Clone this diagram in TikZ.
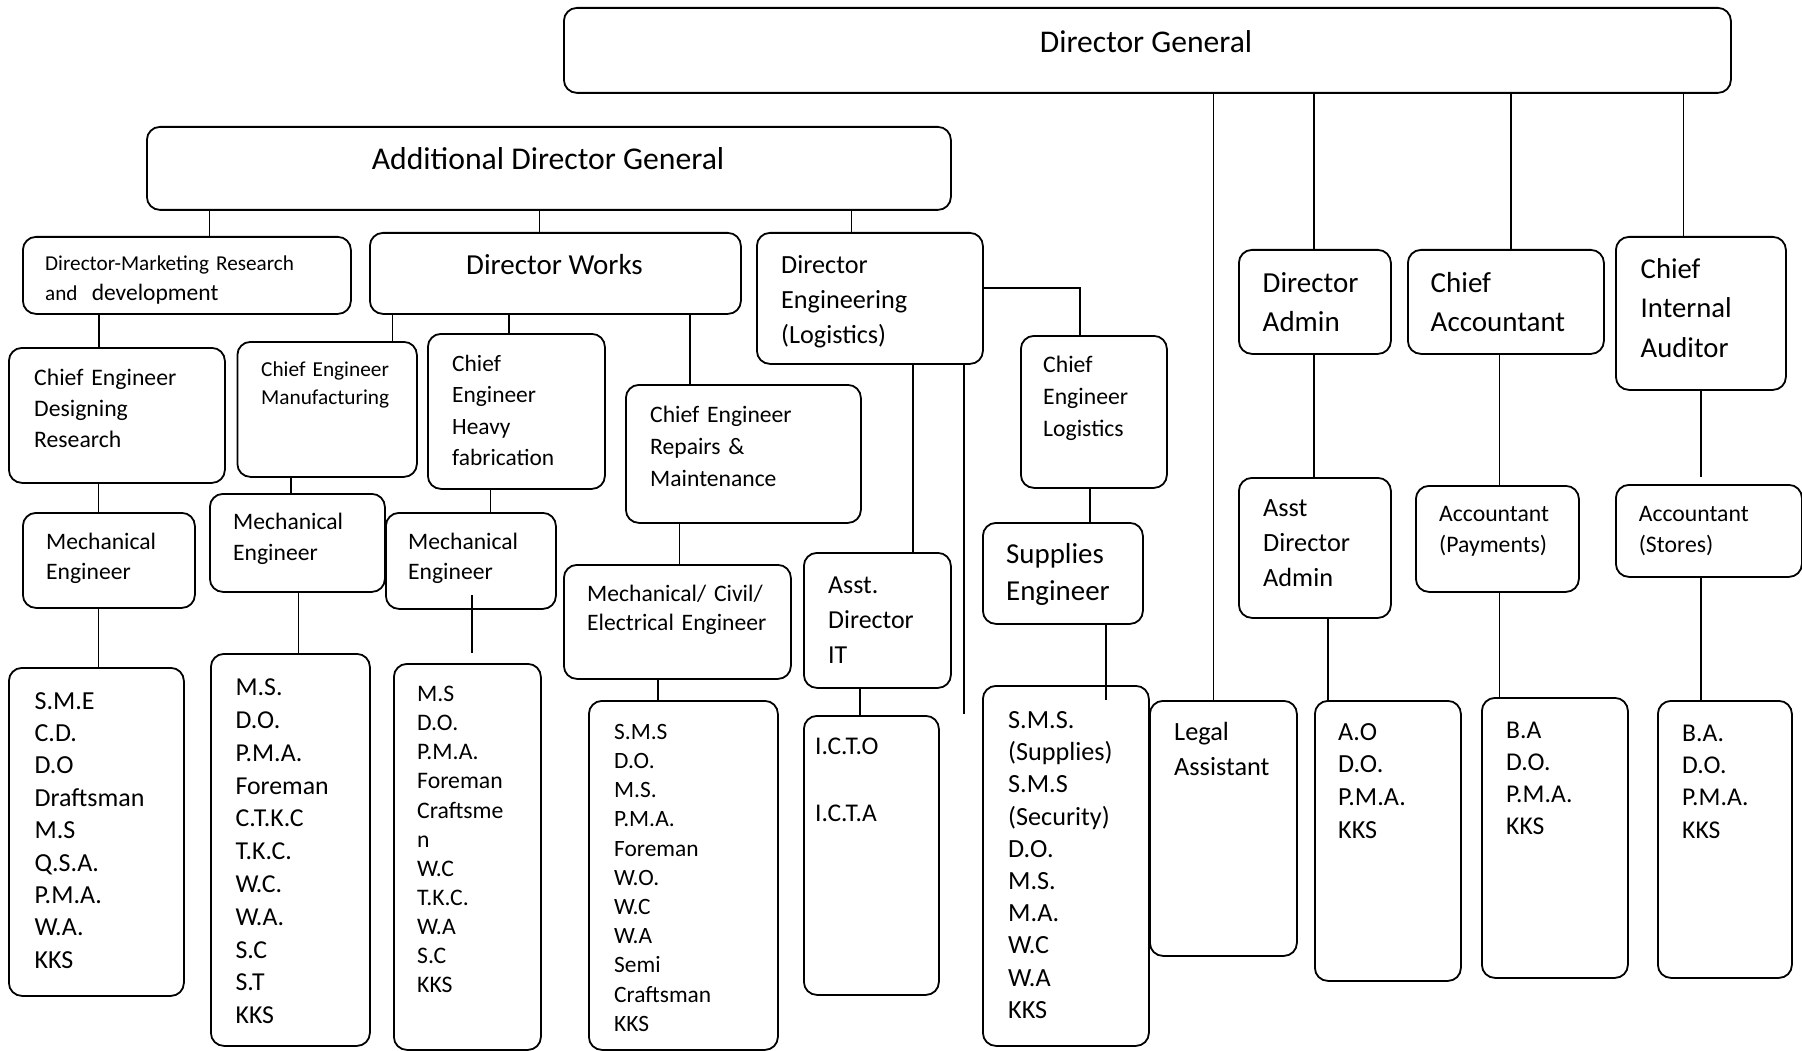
\documentclass[tikz,border=0pt]{standalone}
\usepackage{fontspec}
\setmainfont{Carlito}

\tikzset{
  box/.style={draw,line width=1.8pt,rounded corners=13pt,anchor=north west,inner sep=0pt},
  txt/.style n args={2}{anchor=base west,align=left,inner sep=0pt,text width=320pt,font=\fontsize{#1pt}{#2pt}\selectfont},
  head/.style={anchor=base,inner sep=0pt,font=\fontsize{#1pt}{#1pt}\selectfont},
  link/.style={line width=1.5pt}
}

\begin{document}
\begin{tikzpicture}[x=1pt,y=-1pt]
\useasboundingbox (0,0) rectangle (1802,1051);

\node[box,minimum width=1167pt,minimum height=85pt] (dg) at (563,7) {};
\node[box,minimum width=804pt,minimum height=83pt] (adg) at (146,126) {};
\node[box,minimum width=328pt,minimum height=77pt] (dmr) at (22,236) {};
\node[box,minimum width=371pt,minimum height=81pt] (dw) at (369,232) {};
\node[box,minimum width=226pt,minimum height=131pt] (de) at (756,232) {};
\node[box,minimum width=216pt,minimum height=135pt] (cedr) at (8,347) {};
\node[box,minimum width=179.5pt,minimum height=135pt] (cem) at (236.5,341) {};
\node[box,minimum width=177pt,minimum height=155pt] (cehf) at (427,333) {};
\node[box,minimum width=235pt,minimum height=138pt] (cerm) at (625,384) {};
\node[box,minimum width=227pt,minimum height=114pt] (mce) at (563,564) {};
\node[box,minimum width=147pt,minimum height=135pt] (adit) at (803,552) {};
\node[box,minimum width=146pt,minimum height=152pt] (cel) at (1020,335) {};
\node[box,minimum width=160pt,minimum height=101pt] (se) at (982,522) {};
\node[box,minimum width=172pt,minimum height=95pt] (me1) at (22,512) {};
\node[box,minimum width=175pt,minimum height=98pt] (me2) at (209,493) {};
\node[box,minimum width=170pt,minimum height=96pt] (me3) at (385,512) {};
\node[box,minimum width=152pt,minimum height=104pt] (da) at (1238,249) {};
\node[box,minimum width=196pt,minimum height=104pt] (ca) at (1407,249) {};
\node[box,minimum width=170pt,minimum height=153pt] (cia) at (1615,236) {};
\node[box,minimum width=152pt,minimum height=140pt] (ada) at (1238,477) {};
\node[box,minimum width=163pt,minimum height=106pt] (pay) at (1415,485) {};
\node[box,minimum width=186pt,minimum height=92pt] (sto) at (1615,484) {};
\node[box,minimum width=175pt,minimum height=328pt] (l1) at (8,667) {};
\node[box,minimum width=159pt,minimum height=392pt] (l2) at (210,653) {};
\node[box,minimum width=147pt,minimum height=386pt] (l3) at (393,663) {};
\node[box,minimum width=189pt,minimum height=349pt] (l4) at (588,700) {};
\node[box,minimum width=135pt,minimum height=279pt] (lit) at (803,715) {};
\node[box,minimum width=166pt,minimum height=360pt] (l5) at (982,685) {};
\node[box,minimum width=147pt,minimum height=255pt] (legal) at (1149,700) {};
\node[box,minimum width=146pt,minimum height=280pt] (ladm) at (1314,700) {};
\node[box,minimum width=146pt,minimum height=280pt] (lpay) at (1481,697) {};
\node[box,minimum width=134pt,minimum height=277pt] (lsto) at (1657,700) {};

\node[head=31.6] (dgT) at (1146,52.8) {Director General};
\node[head=31.7] (adgT) at (548,170) {Additional Director General};
\node[head=29] (dwT) at (554.5,274) {Director Works};
\node[txt={21.2}{30}] (dmrT) at (45,270) {Director-Marketing Research\\and\ \ {\fontsize{23.5pt}{30pt}\selectfont development}};
\node[txt={26.2}{35}] (deT) at (781,273.4) {Director\\Engineering\\(Logistics)};
\node[txt={23.7}{31}] (cedrT) at (34,385.6) {Chief Engineer\\Designing\\Research};
\node[txt={21.3}{28}] (cemT) at (261,376.8) {Chief Engineer\\Manufacturing};
\node[txt={23.4}{31.4}] (cehfT) at (452,371.5) {Chief\\Engineer\\Heavy\\fabrication};
\node[txt={23.6}{31.7}] (cermT) at (650,422.6) {Chief Engineer\\Repairs \&\\Maintenance};
\node[txt={23.6}{28.7}] (mceT) at (587,601.6) {Mechanical/ Civil/\\Electrical Engineer};
\node[txt={25.9}{35}] (aditT) at (828,593.3) {Asst.\\Director\\IT};
\node[txt={23.7}{31.7}] (celT) at (1043,372.6) {Chief\\Engineer\\Logistics};
\node[txt={28.9}{37.7}] (seT) at (1006,563.2) {Supplies\\Engineer};
\node[txt={23.6}{30.3}] (me1T) at (46,549.3) {Mechanical\\Engineer};
\node[txt={23.6}{31.3}] (me2T) at (233,529.3) {Mechanical\\Engineer};
\node[txt={23.6}{30.3}] (me3T) at (408,549.3) {Mechanical\\Engineer};
\node[txt={29}{39}] (daT) at (1262.5,292.3) {Director\\Admin};
\node[txt={29}{39}] (caT) at (1430.5,292.3) {Chief\\Accountant};
\node[txt={28.7}{39.5}] (ciaT) at (1640.5,278.2) {Chief\\Internal\\Auditor};
\node[txt={26.3}{35}] (adaT) at (1263,516.7) {Asst\\Director\\Admin};
\node[txt={23.7}{31}] (payT) at (1439,521.6) {Accountant\\(Payments)};
\node[txt={23.7}{31}] (stoT) at (1638.6,521.6) {Accountant\\(Stores)};
\node[txt={26}{32.4}] (l1T) at (34.4,709) {S.M.E\\C.D.\\D.O\\Draftsman\\M.S\\Q.S.A.\\P.M.A.\\W.A.\\KKS};
\node[txt={25.8}{32.8}] (l2T) at (235.4,695.6) {M.S.\\D.O.\\P.M.A.\\Foreman\\C.T.K.C\\T.K.C.\\W.C.\\W.A.\\S.C\\S.T\\KKS};
\node[txt={23.7}{29.1}] (l3T) at (417,701.6) {M.S\\D.O.\\P.M.A.\\Foreman\\Craftsme\\n\\W.C\\T.K.C.\\W.A\\S.C\\KKS};
\node[txt={23.4}{29.2}] (l4T) at (614,739.2) {S.M.S\\D.O.\\M.S.\\P.M.A.\\Foreman\\W.O.\\W.C\\W.A\\Semi\\Craftsman\\KKS};
\node[txt={25.5}{33.3}] (litT) at (815,754.9) {I.C.T.O\\[33.3pt]I.C.T.A};
\node[txt={26.2}{32.2}] (l5T) at (1008,728.4) {S.M.S.\\(Supplies)\\S.M.S\\(Security)\\D.O.\\M.S.\\M.A.\\W.C\\W.A\\KKS};
\node[txt={26.3}{35.6}] (legalT) at (1174,740.1) {Legal\\Assistant};
\node[txt={26.1}{32.8}] (ladmT) at (1338,740) {A.O\\D.O.\\P.M.A.\\KKS};
\node[txt={25.6}{32}] (lpayT) at (1506,738.2) {B.A\\D.O.\\P.M.A.\\KKS};
\node[txt={25.6}{32.3}] (lstoT) at (1682,741.2) {B.A.\\D.O.\\P.M.A.\\KKS};

\coordinate (deEnd) at (964,714);
\coordinate (meTop) at (472,595);
\coordinate (meEnd) at (472,653);
\coordinate (seEnd) at (1106,700);
\coordinate (ciaEnd) at (1701,477);

\draw[link] (1213.5,0 |- dg.south) -- (1213.5,0 |- legal.north);
\draw[link] (1314,0 |- dg.south) -- (1314,0 |- da.north);
\draw[link] (1511,0 |- dg.south) -- (1511,0 |- ca.north);
\draw[link] (1683.6,0 |- dg.south) -- (1683.6,0 |- cia.north);

\draw[link] (209.5,0 |- adg.south) -- (209.5,0 |- dmr.north);
\draw[link] (539.6,0 |- adg.south) -- (539.6,0 |- dw.north);
\draw[link] (851.5,0 |- adg.south) -- (851.5,0 |- de.north);

\draw[link] (99,0 |- dmr.south) -- (99,0 |- cedr.north);
\draw[link] (392.5,0 |- dw.south) -- (392.5,0 |- cem.north);
\draw[link] (509,0 |- dw.south) -- (509,0 |- cehf.north);
\draw[link] (690,0 |- dw.south) -- (690,0 |- cerm.north);

\draw[link] (913,0 |- de.south) -- (913,0 |- adit.north);
\draw[link] (964,0 |- de.south) -- (deEnd);
\draw[link] (de.east |- 0,288) -| (1080,0 |- cel.north);

\draw[link] (98.7,0 |- cedr.south) -- (98.7,0 |- me1.north);
\draw[link] (98.7,0 |- me1.south) -- (98.7,0 |- l1.north);
\draw[link] (291,0 |- cem.south) -- (291,0 |- me2.north);
\draw[link] (298.5,0 |- me2.south) -- (298.5,0 |- l2.north);
\draw[link] (490.6,0 |- cehf.south) -- (490.6,0 |- me3.north);
\draw[link] (meTop) -- (meEnd);
\draw[link] (679.5,0 |- cerm.south) -- (679.5,0 |- mce.north);
\draw[link] (658,0 |- mce.south) -- (658,0 |- l4.north);
\draw[link] (860,0 |- adit.south) -- (860,0 |- lit.north);
\draw[link] (1090,0 |- cel.south) -- (1090,0 |- se.north);
\draw[link] (1106,0 |- se.south) -- (seEnd);

\draw[link] (1314,0 |- da.south) -- (1314,0 |- ada.north);
\draw[link] (1328,0 |- ada.south) -- (1328,0 |- ladm.north);
\draw[link] (1499.3,0 |- ca.south) -- (1499.3,0 |- pay.north);
\draw[link] (1499.3,0 |- pay.south) -- (1499.3,0 |- lpay.north);
\draw[link] (1701,0 |- cia.south) -- (ciaEnd);
\draw[link] (1701,0 |- sto.south) -- (1701,0 |- lsto.north);
\end{tikzpicture}
\end{document}
